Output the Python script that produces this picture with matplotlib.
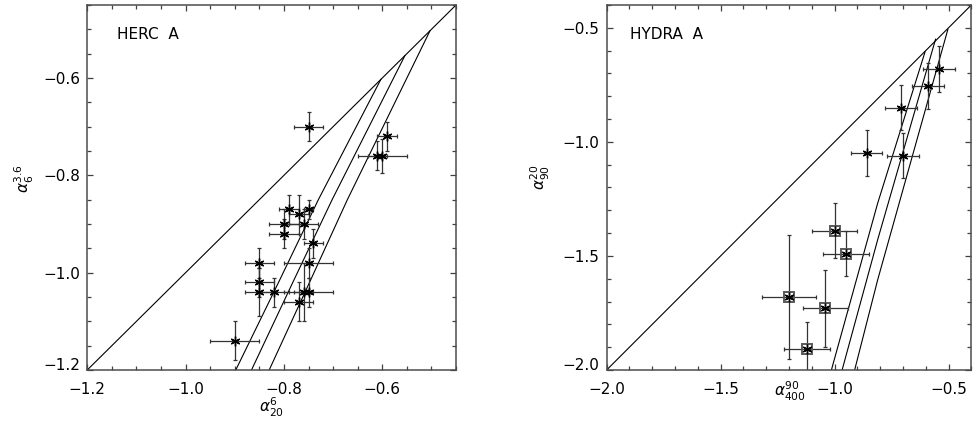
import matplotlib
matplotlib.use("Agg")
import matplotlib.pyplot as plt
from matplotlib.ticker import MultipleLocator

plt.rcParams["font.family"] = "DejaVu Sans"
plt.rcParams["mathtext.fontset"] = "dejavusans"

# HERC A: spectral index pairs
herc_x = [-0.75, -0.59, -0.61, -0.60, -0.79, -0.77, -0.75, -0.80, -0.76, -0.80,
          -0.74, -0.85, -0.75, -0.85, -0.85, -0.82, -0.76, -0.75, -0.77, -0.90]
herc_y = [-0.70, -0.72, -0.76, -0.76, -0.87, -0.88, -0.87, -0.90, -0.90, -0.92,
          -0.94, -0.98, -0.98, -1.02, -1.04, -1.04, -1.04, -1.04, -1.06, -1.14]
herc_xerr = [0.03, 0.02, 0.02, 0.05, 0.02, 0.02, 0.01, 0.03, 0.03, 0.03,
             0.02, 0.03, 0.05, 0.03, 0.03, 0.03, 0.02, 0.05, 0.03, 0.05]
herc_yerr = [0.03, 0.03, 0.03, 0.035, 0.03, 0.04, 0.02, 0.03, 0.03, 0.03,
             0.03, 0.03, 0.03, 0.03, 0.05, 0.03, 0.06, 0.03, 0.04, 0.04]

# model tracks (HERC A)
herc_c1_x = [-0.898, -0.811, -0.730, -0.603]
herc_c1_y = [-1.20, -1.02, -0.85, -0.603]
herc_c2_x = [-0.866, -0.782, -0.702, -0.554]
herc_c2_y = [-1.20, -1.02, -0.85, -0.554]
herc_c3_x = [-0.830, -0.748, -0.671, -0.503]
herc_c3_y = [-1.20, -1.02, -0.85, -0.503]

# HYDRA A: asterisks and boxed asterisks
hydra_x = [-0.54, -0.59, -0.71, -0.86, -0.70]
hydra_y = [-0.68, -0.755, -0.85, -1.05, -1.06]
hydra_xerr = [0.07, 0.07, 0.07, 0.07, 0.07]
hydra_yerr = [0.10, 0.10, 0.10, 0.10, 0.10]

hydra_box_x = [-1.00, -0.95, -1.20, -1.04, -1.12]
hydra_box_y = [-1.39, -1.49, -1.68, -1.73, -1.91]
hydra_box_xerr = [0.10, 0.10, 0.12, 0.10, 0.10]
hydra_box_yerr = [0.12, 0.10, 0.27, 0.17, 0.12]

hydra_c1_x = [-1.014, -0.811, -0.603]
hydra_c1_y = [-2.00, -1.269, -0.605]
hydra_c2_x = [-0.967, -0.811, -0.557]
hydra_c2_y = [-2.00, -1.429, -0.550]
hydra_c3_x = [-0.912, -0.811, -0.503]
hydra_c3_y = [-2.00, -1.605, -0.507]

asterisk = (6, 2, 0)
ebar_kw = dict(fmt="none", ecolor="0.2", elinewidth=0.9, capsize=1.5, capthick=0.9)
star_kw = dict(ls="none", marker=asterisk, ms=7, mew=1.0, color="k")


def style_axis(ax, lo, hi, major, minor):
    ax.set_xlim(lo, hi)
    ax.set_ylim(lo, hi)
    ax.xaxis.set_major_locator(MultipleLocator(major))
    ax.yaxis.set_major_locator(MultipleLocator(major))
    ax.xaxis.set_minor_locator(MultipleLocator(minor))
    ax.yaxis.set_minor_locator(MultipleLocator(minor))
    ax.tick_params(which="both", direction="in", top=True, right=True, color="0.25")
    ax.tick_params(which="major", length=4.5, width=0.9, labelsize=11)
    ax.tick_params(which="minor", length=3, width=0.9)
    ax.tick_params(axis="x", pad=9)
    ax.tick_params(axis="y", pad=5)
    for sp in ax.spines.values():
        sp.set_linewidth(1.1)
        sp.set_color("0.3")
    fig.canvas.draw()
    for lab in ax.get_yticklabels():
        if abs(lab.get_position()[1] - lo) < 1e-6:
            lab.set_va("baseline")


fig = plt.figure(figsize=(9.73, 4.26), dpi=100)
ax1 = fig.add_axes([0.0897, 0.1315, 0.379, 0.8568])
ax2 = fig.add_axes([0.6235, 0.1315, 0.3748, 0.8568])

# left panel
ax1.plot([-1.2, -0.45], [-1.2, -0.45], color="k", lw=0.8)
for cx, cy in [(herc_c1_x, herc_c1_y), (herc_c2_x, herc_c2_y), (herc_c3_x, herc_c3_y)]:
    ax1.plot(cx, cy, color="k", lw=0.8)
ax1.errorbar(herc_x, herc_y, xerr=herc_xerr, yerr=herc_yerr, **ebar_kw)
ax1.plot(herc_x, herc_y, **star_kw)
ax1.text(0.081, 0.907, "HERC  A", transform=ax1.transAxes, fontsize=11, va="baseline")
style_axis(ax1, -1.2, -0.45, 0.2, 0.05)

# right panel
ax2.plot([-2.0, -0.4], [-2.0, -0.4], color="k", lw=0.8)
for cx, cy in [(hydra_c1_x, hydra_c1_y), (hydra_c2_x, hydra_c2_y), (hydra_c3_x, hydra_c3_y)]:
    ax2.plot(cx, cy, color="k", lw=0.8)
ax2.errorbar(hydra_x, hydra_y, xerr=hydra_xerr, yerr=hydra_yerr, **ebar_kw)
ax2.errorbar(hydra_box_x, hydra_box_y, xerr=hydra_box_xerr, yerr=hydra_box_yerr, **ebar_kw)
ax2.plot(hydra_x, hydra_y, **star_kw)
ax2.plot(hydra_box_x, hydra_box_y, ls="none", marker="s", ms=6.5, mew=1.4,
         mfc="none", mec="0.35")
ax2.plot(hydra_box_x, hydra_box_y, **star_kw)
ax2.text(0.0636, 0.907, "HYDRA  A", transform=ax2.transAxes, fontsize=11, va="baseline")
style_axis(ax2, -2.0, -0.4, 0.5, 0.1)

# axis titles
fig.text(0.2795, 0.0434, r"$\alpha_{20}^{6}$", ha="center", va="center", fontsize=11)
fig.text(0.812, 0.081, r"$\alpha_{400}^{90}$", ha="center", va="center", fontsize=11)
fig.text(0.0247, 0.582, r"$\alpha_{6}^{3.6}$", ha="center", va="center", fontsize=11, rotation=90)
fig.text(0.555, 0.585, r"$\alpha_{90}^{20}$", ha="center", va="center", fontsize=11, rotation=90)

fig.savefig("out.png", dpi=100)
